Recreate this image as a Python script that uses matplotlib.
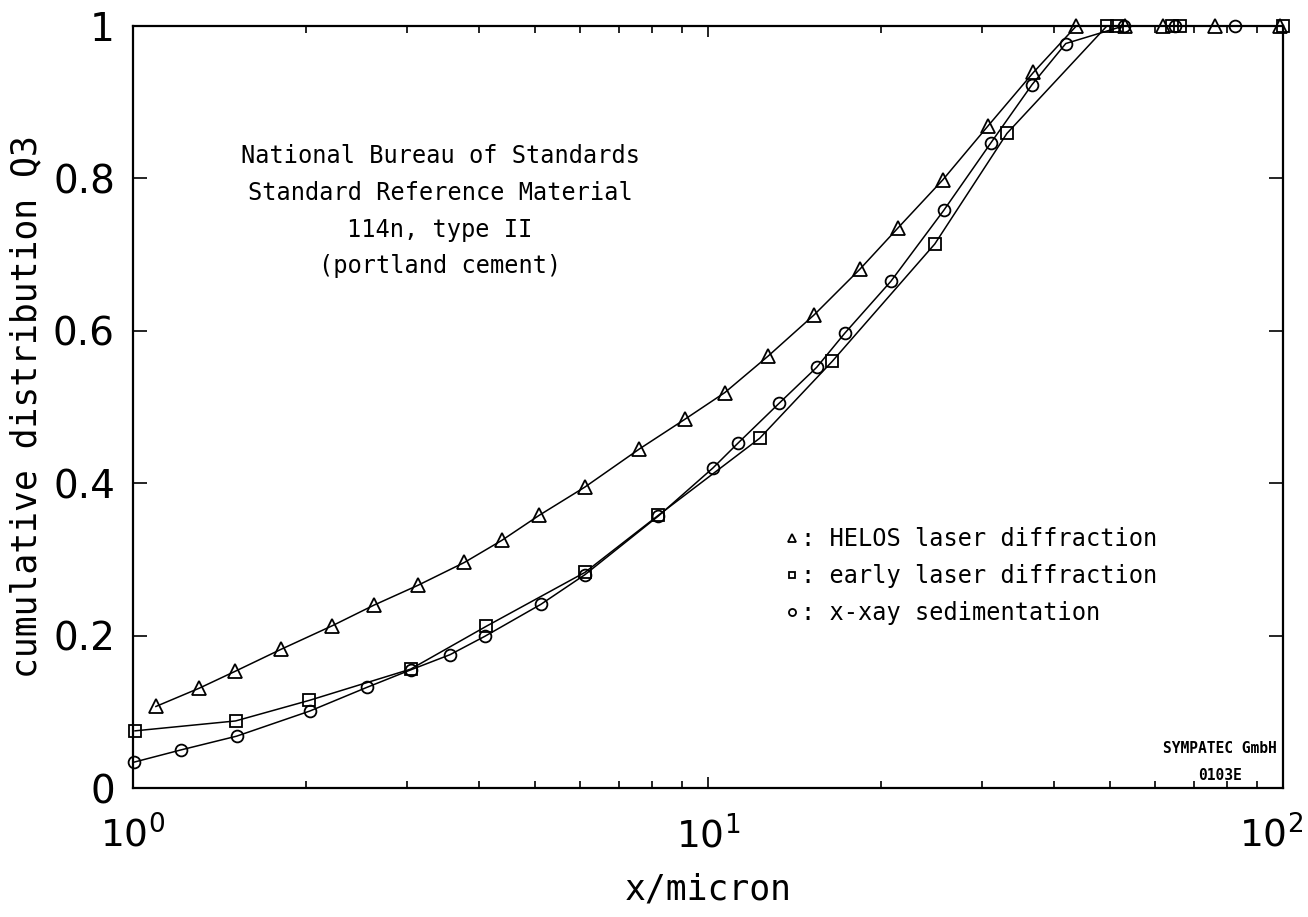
import matplotlib
matplotlib.use("Agg")
import matplotlib.pyplot as plt
from matplotlib.ticker import LogLocator, NullFormatter, FixedLocator
from matplotlib.transforms import ScaledTranslation

# HELOS laser diffraction (triangles)
helos_x = [1.096, 1.304, 1.504, 1.809, 2.222, 2.625, 3.13, 3.77, 4.38, 5.09, 6.11, 7.60,
           9.12, 10.7, 12.73, 15.3, 18.38, 21.4, 25.6, 30.7, 36.8, 43.7, 53.1, 61.9, 76.1, 99.0]
helos_y = [0.107, 0.131, 0.153, 0.182, 0.213, 0.240, 0.266, 0.296, 0.325, 0.358, 0.395, 0.445,
           0.484, 0.519, 0.567, 0.621, 0.681, 0.735, 0.798, 0.869, 0.939, 1.0, 1.0, 1.0, 1.0, 1.0]

# early laser diffraction (squares)
early_x = [1.008, 1.508, 2.026, 3.04, 4.11, 6.11, 8.20, 12.3, 16.45, 24.8, 33.1, 49.4, 51.4,
           64.0, 66.2, 100.0]
early_y = [0.075, 0.088, 0.115, 0.156, 0.212, 0.283, 0.358, 0.459, 0.560, 0.714, 0.859, 1.0, 1.0,
           1.0, 1.0, 1.0]

# x-ray sedimentation (circles)
sed_x = [1.005, 1.212, 1.514, 2.03, 2.55, 3.04, 3.56, 4.09, 5.12, 6.11, 8.20, 10.2, 11.29, 13.3,
         15.45, 17.3, 20.8, 25.7, 31.0, 36.6, 41.9, 52.8, 65.0, 82.5]
sed_y = [0.034, 0.050, 0.068, 0.101, 0.132, 0.155, 0.175, 0.199, 0.241, 0.280, 0.357, 0.420, 0.453,
         0.505, 0.552, 0.597, 0.665, 0.758, 0.846, 0.923, 0.977, 1.0, 1.0, 1.0]

y_ticks = [0, 0.2, 0.4, 0.6, 0.8, 1.0]
y_ticklabels = ["0", "0.2", "0.4", "0.6", "0.8", "1"]
x_ticks = [1, 10, 100]
x_ticklabels = [r"$\mathregular{10^{0}}$", r"$\mathregular{10^{1}}$", r"$\mathregular{10^{2}}$"]

labels = [": HELOS laser diffraction", ": early laser diffraction", ": x-xay sedimentation"]
note_lines = "National Bureau of Standards\nStandard Reference Material\n114n, type II\n(portland cement)"

mono = "DejaVu Sans Mono"

fig = plt.figure(figsize=(13.08, 9.17), dpi=100)
ax = fig.add_axes([133 / 1308, 1 - 788 / 917, 1150 / 1308, 762 / 917])

lw = 1.1
h1, = ax.plot(helos_x, helos_y, color="black", lw=lw, marker="^", ms=9.5,
              mfc="none", mec="black", mew=1.3, clip_on=False, zorder=3)
h2, = ax.plot(early_x, early_y, color="black", lw=lw, marker="s", ms=8,
              mfc="none", mec="black", mew=1.3, clip_on=False, zorder=3)
h3, = ax.plot(sed_x, sed_y, color="black", lw=lw, marker="o", ms=8.5,
              mfc="none", mec="black", mew=1.3, clip_on=False, zorder=3)

ax.set_xscale("log")
ax.set_xlim(1, 100)
ax.set_ylim(0, 1)

ax.xaxis.set_major_locator(FixedLocator(x_ticks))
ax.set_xticklabels(x_ticklabels)
ax.xaxis.set_minor_locator(LogLocator(base=10, subs=[2, 3, 4, 5, 6, 7, 8, 9]))
ax.xaxis.set_minor_formatter(NullFormatter())
ax.set_yticks(y_ticks)
ax.set_yticklabels(y_ticklabels)

ax.tick_params(axis="both", which="both", direction="in", top=True, right=True,
               width=1.2, color="black")
ax.tick_params(axis="y", which="major", length=10, pad=13, labelsize=28)
ax.tick_params(axis="x", which="major", length=8, pad=20, labelsize=27)
ax.tick_params(axis="x", which="minor", length=5)

# keep the last decade label inside the canvas
last = ax.get_xticklabels()[-1]
last.set_transform(last.get_transform() + ScaledTranslation(-0.12, 0, fig.dpi_scale_trans))

for s in ax.spines.values():
    s.set_linewidth(1.6)

ax.set_xlabel("x/micron", family=mono, fontsize=25, labelpad=12)
ax.set_ylabel("cumulative distribution Q3", family=mono, fontsize=25)
ax.yaxis.set_label_coords(-0.078, 0.5)

ax.text(0.267, 0.845, note_lines, transform=ax.transAxes, ha="center", va="top",
        family=mono, fontsize=17, linespacing=1.67)

leg = ax.legend([h1, h2, h3], labels, loc="upper left", bbox_to_anchor=(0.548, 0.37),
                frameon=False, prop={"family": mono, "size": 17}, handlelength=0.6,
                handletextpad=0.1, labelspacing=0.55, markerscale=0.6)
for line in leg.get_lines():
    line.set_linestyle("none")

ax.text(0.945, 0.034, "SYMPATEC GmbH\n0103E", transform=ax.transAxes, ha="center", va="center",
        family=mono, fontsize=10.5, fontweight="bold", linespacing=2.0)

fig.savefig("out.png", dpi=100)
